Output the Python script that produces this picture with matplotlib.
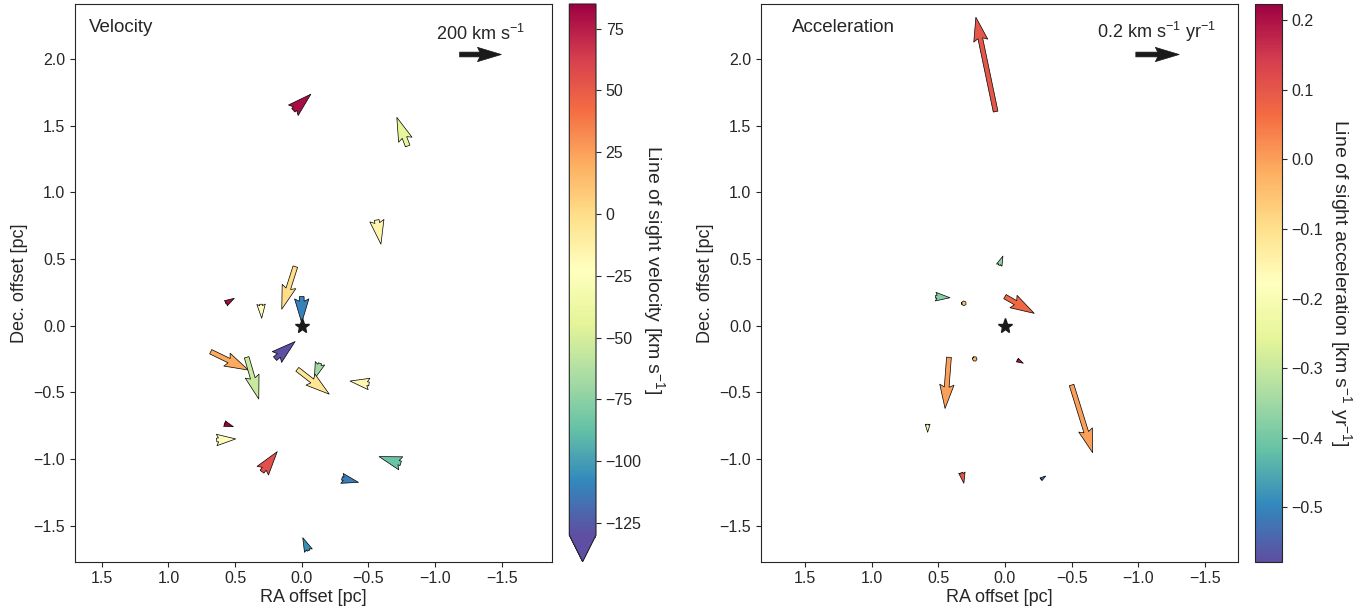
import numpy as np
import matplotlib
matplotlib.use('Agg')
import matplotlib.pyplot as plt
import seaborn as sns

sns.set_style('ticks')
plt.rcParams['font.family'] = ['Liberation Sans', 'DejaVu Sans']
plt.rcParams['mathtext.default'] = 'regular'

# velocity panel: positions [pc], proper motion [km/s], line of sight velocity [km/s]
vel_x = [0.063, -0.795, -0.563, 0.048, 0.0, 0.57, 0.305, 0.2, 0.683, 0.413,
         -0.137, 0.033, -0.505, 0.58, 0.638, 0.298, -0.302, -0.743, -0.05]
vel_y = [1.615, 1.347, 0.792, 0.442, 0.217, 0.167, 0.16, -0.248, -0.196, -0.238,
         -0.283, -0.328, -0.438, -0.735, -0.858, -1.096, -1.146, -1.033, -1.688]
vel_u = [-84, 52, -20, 65, 0, -41, -3, -96, -181, -58,
         27, -153, 91, -43, -91, -73, -79, 104, 27]
vel_v = [77, 137, -116, -204, -125, 24, -67, 82, -88, -200,
         -75, -119, 14, -15, 5, 96, -19, 32, 62]
vel_los = [80, -42, -15, 0, -110, 80, -20, -140, 22, -55,
           -68, -5, -18, 85, -25, 55, -112, -85, -105]

# acceleration panel: positions [pc], acceleration [km/s/yr], line of sight acceleration
acc_x = [0.07, 0.043, 0.52, 0.308, 0.0, 0.227, -0.092, 0.42, -0.5, 0.58, 0.323, -0.27]
acc_y = [1.605, 0.453, 0.217, 0.167, 0.217, -0.25, -0.258, -0.238, -0.446, -0.74, -1.103, -1.153]
acc_u = [0.091, -0.017, -0.066, 0.001, -0.135, 0.0005, -0.028, 0.018, -0.097, 0.0, -0.009, -0.022]
acc_v = [0.435, 0.042, -0.005, 0.0005, -0.077, 0.001, -0.015, -0.236, -0.312, -0.037, -0.049, 0.015]
acc_los = [0.1, -0.37, -0.38, -0.05, 0.07, -0.03, 0.2, 0.0, 0.0, -0.22, 0.1, -0.53]

ticks_pos = [1.5, 1.0, 0.5, 0.0, -0.5, -1.0, -1.5]
ticks_dec = [-1.5, -1.0, -0.5, 0.0, 0.5, 1.0, 1.5, 2.0]
vel_cticks = [75, 50, 25, 0, -25, -50, -75, -100, -125]
acc_cticks = [0.2, 0.1, 0.0, -0.1, -0.2, -0.3, -0.4, -0.5]

W, H = 1369, 613
fig = plt.figure(figsize=(W / 100, H / 100), dpi=100)


def box(x0, x1, y0, y1):
    # pixel box -> figure fraction
    return [x0 / W, (H - y1) / H, (x1 - x0) / W, (y1 - y0) / H]


ax1 = fig.add_axes(box(75, 552.3, 4, 561.7))
cax1 = fig.add_axes(box(569.3, 596, 4, 561.7))
ax2 = fig.add_axes(box(761, 1237.7, 4, 561.7))
cax2 = fig.add_axes(box(1255, 1281.7, 4, 561.7))

qkw = dict(angles='xy', scale_units='xy', width=0.01, cmap='Spectral_r',
           edgecolor='k', linewidth=0.5)

q1 = ax1.quiver(vel_x, vel_y, vel_u, vel_v, vel_los, scale=639, clim=(-130, 85), **qkw)
q2 = ax2.quiver(acc_x, acc_y, acc_u, acc_v, acc_los, scale=0.615, clim=(-0.578, 0.223), **qkw)

for ax in (ax1, ax2):
    ax.plot([0], [0], marker='*', color='#1a1a1a', markersize=11, linestyle='none')
    ax.set_xticks(ticks_pos)
    ax.set_yticks(ticks_dec)
    ax.tick_params(labelsize=11.5)
    ax.set_xlabel('RA offset [pc]', fontsize=13, labelpad=2)
    ax.set_ylabel('Dec. offset [pc]', fontsize=13)

ax1.set_xlim(1.701, -1.880)
ax2.set_xlim(1.830, -1.746)
ax1.set_ylim(-1.771, 2.412)
ax2.set_ylim(-1.771, 2.412)

ax1.text(0.029, 0.958, 'Velocity', transform=ax1.transAxes, fontsize=13.5, va='center', ha='left')
ax2.text(0.065, 0.958, 'Acceleration', transform=ax2.transAxes, fontsize=13.5, va='center', ha='left')

ax1.quiverkey(q1, 0.849, 0.910, 200, r'200 km s$^{-1}$', labelpos='N', coordinates='axes',
              color='#1a1a1a', fontproperties={'size': 13})
ax2.quiverkey(q2, 0.830, 0.910, 0.2, r'0.2 km s$^{-1}$ yr$^{-1}$', labelpos='N', coordinates='axes',
              color='#1a1a1a', fontproperties={'size': 13})

cb1 = fig.colorbar(q1, cax=cax1, extend='min', ticks=vel_cticks)
cb1.set_label(r'Line of sight velocity [km s$^{-1}$]', rotation=270, fontsize=14, labelpad=18)
cb2 = fig.colorbar(q2, cax=cax2, ticks=acc_cticks)
cb2.set_label(r'Line of sight acceleration [km s$^{-1}$ yr$^{-1}$]', rotation=270, fontsize=14, labelpad=22)
for cb in (cb1, cb2):
    cb.ax.tick_params(labelsize=11.5)

fig.savefig('out.png', dpi=100)
